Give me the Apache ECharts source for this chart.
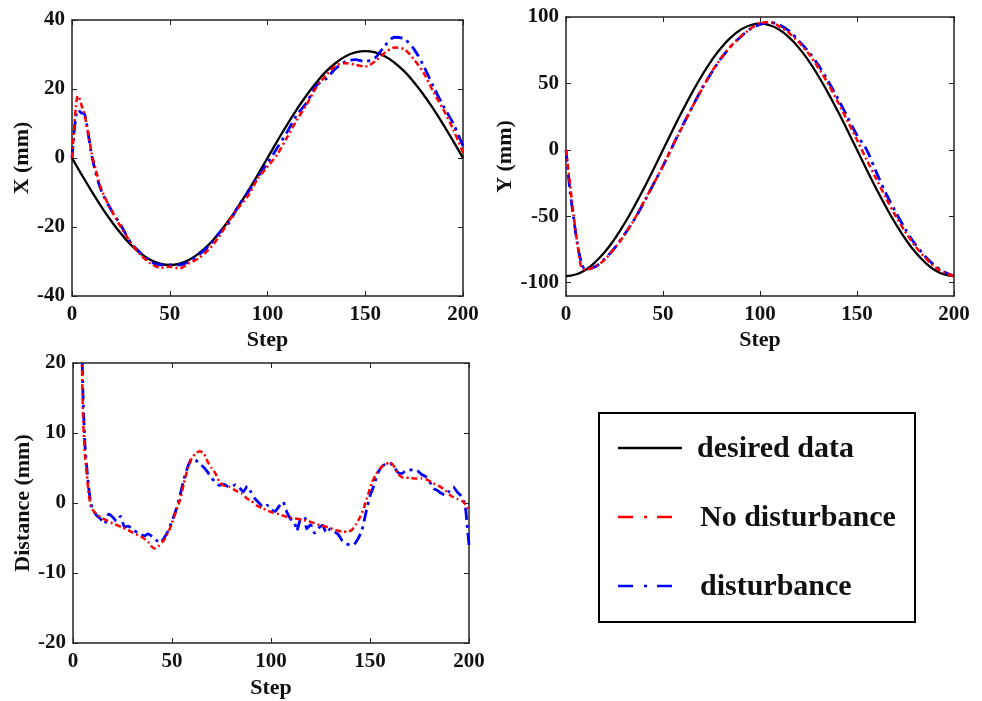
<!DOCTYPE html>
<html><head><meta charset="utf-8">
<script src="https://cdn.jsdelivr.net/npm/echarts@6/dist/echarts.min.js"></script>
<style>html,body{margin:0;padding:0;background:#fff}#c{width:982px;height:701px}</style>
</head><body><div id="c"></div>
<script>
// ---- data ----
const desiredSteps = [0,5,10,15,20,25,30,35,40,45,50,55,60,65,70,75,80,85,90,95,100,105,110,115,120,125,130,135,140,145,150,155,160,165,170,175,180,185,190,195,200];
const desiredX = [0,-4.9,-9.6,-14.1,-18.2,-21.9,-25.1,-27.6,-29.5,-30.6,-31,-30.6,-29.5,-27.6,-25.1,-21.9,-18.2,-14.1,-9.6,-4.9,0,4.9,9.6,14.1,18.2,21.9,25.1,27.6,29.5,30.6,31,30.6,29.5,27.6,25.1,21.9,18.2,14.1,9.6,4.9,0];
const desiredY = [-95,-93.8,-90.4,-84.6,-76.9,-67.2,-55.8,-43.1,-29.4,-14.9,0,14.9,29.4,43.1,55.8,67.2,76.9,84.6,90.4,93.8,95,93.8,90.4,84.6,76.9,67.2,55.8,43.1,29.4,14.9,0,-14.9,-29.4,-43.1,-55.8,-67.2,-76.9,-84.6,-90.4,-93.8,-95];

const xSteps = [0,1,2,3,4,5,6,7,8,9,10,12,15,20,25,30,35,40,45,50,55,60,65,70,75,80,85,90,95,100,105,110,115,120,125,130,135,140,145,150,155,160,165,170,175,180,185,190,195,200];
const xNoDist = [0,8,15,18,17,15,13.5,11,8,5,1.5,-3,-9,-15,-20,-24.5,-28,-30.5,-31.8,-31.5,-32,-30.5,-29,-26.5,-23,-18.5,-14.5,-11,-6,-2.5,1,6,11,15.5,20.5,24,26.8,27.5,27,26.5,28,30.5,32,31.5,28.5,24.5,19,14,8.3,1.5];
const xDist = [0,7,12,14,13.5,13,13,11.5,8,4.5,1,-4,-9.5,-15,-19.5,-24.5,-27.5,-30,-31,-31,-31,-30,-28,-25.5,-22,-19,-14,-10,-5.5,-1.5,3,7.5,12.5,16,21,23,26,28,28.5,28,29,32.5,35,34.5,31.5,26.5,20.5,15,10,3.5];

const ySteps = [0,2,4,6,8,10,15,20,25,30,35,40,45,50,55,60,65,70,75,80,85,90,95,100,105,110,115,120,125,130,135,140,145,150,155,160,165,170,175,180,185,190,195,200];
const yNoDist = [0,-25,-50,-72,-89,-90,-88,-82.6,-74.1,-64.2,-52.8,-39.5,-26,-12,3,17.5,32,45.5,58.5,69.1,78,85.2,91,95.5,96,93,88,81,72.5,62,50,36.5,22,7.5,-7.5,-22,-36.5,-50,-62,-72.5,-81,-88,-92.5,-95];
const yDist = [0,-30,-52,-72,-85,-90,-88,-82,-74,-64,-53,-40,-26,-12,3,18,32,46,58,69,78,85,91,94.5,96,94,89.5,82,74,64,52,39,25,11,0,-17,-33,-47,-60,-71,-80,-87,-92,-95];

const dNoSteps = [0,2,3,4,5,6,7,8,9,10,12,15,20,25,30,35,38,41,43,46,49,52,54,56,58,60,62,64,66,68,70,72,74,76,79,82,85,88,90,93,96,100,104,108,112,116,120,124,128,132,136,139,141,143,145,147,149,151,153,155,157,160,162,164,166,168,170,173,176,179,182,185,188,191,194,197,200];
const dNoVals = [95,65,45,28,13,7,4,1.2,-0.5,-1,-1.6,-2.2,-2.9,-3.5,-4.2,-4.9,-5.6,-6.5,-6.2,-5.3,-3.6,-1.2,0.4,2.8,5,6.4,7.1,7.4,7.1,5.9,5,4.2,3,2.5,2.3,1.8,1.4,0.6,0.3,-0.4,-0.8,-1.3,-1.6,-2,-2.2,-2.4,-2.7,-3.1,-3.4,-3.8,-4.1,-4.1,-3.8,-3,-2,-0.6,1.2,2.9,4.1,4.9,5.4,5.8,5.3,4.2,3.7,3.6,3.6,3.5,3.5,3.3,2.8,2.4,1.8,1,0.6,0.2,-1];
const dDisSteps = [0,2,3,4,5,6,7,8,9,10,12,14,16,18,20,22,24,26,28,30,33,36,38,40,42,44,46,48,50,52,54,56,58,60,62,64,66,68,70,72,74,76,78,80,82,84,86,88,90,92,94,96,98,100,102,104,106,108,110,112,113,115,117,118,120,122,124,126,128,130,132,134,136,138,140,142,144,146,148,150,152,154,156,158,160,162,164,166,168,170,172,174,176,178,180,182,184,186,188,190,192,194,196,198,199,200];
const dDisVals = [95,67,48,30,16,8.5,5,2,0,-1,-1.8,-2.3,-3,-1.6,-2,-2.6,-1.9,-3.4,-3.3,-3.8,-4.3,-4.7,-4.4,-4.8,-5.3,-5.7,-5,-4,-2.6,-1,1,3.4,5.2,6.3,6.1,5.6,5.1,4.4,3.6,2.9,2.5,2.7,2.4,2.3,2.6,2.2,1.6,2.4,1.5,0.6,0,-0.6,-0.3,-0.9,-1.2,-0.5,0.2,-1.3,-2.3,-2.9,-4,-2.2,-2,-3.7,-3.1,-4.3,-3.6,-3.2,-4.3,-3.7,-4.1,-4.5,-5.4,-5.8,-6,-5.9,-5.1,-3.8,-1.3,1,2.5,4.3,5.2,5.6,5.7,5.2,4.4,4.2,4.6,4.7,4.8,4.6,4.1,3.8,3.1,2.1,1.8,1.4,1.1,1.7,2.3,1.6,1,-0.3,-3,-6];

const legendNames = ['desired data','No disturbance','disturbance'];
const xTitle = 'Step';
const yTitles = ['X (mm)','Y (mm)','Distance (mm)'];
const yTicksY = [-100,-50,0,50,100];

// ---- chart ----
const FONT = 'Liberation Serif';
const zip = (s, v) => s.map((x, i) => [x, v[i]]);
const chart = echarts.init(document.getElementById('c'), null, {renderer: 'canvas'});

const axisLineStyle = {lineStyle: {color: '#222', width: 1.5}};
const labelStyle = {color: '#111', fontFamily: FONT, fontWeight: 'bold', fontSize: 21};
const nameStyle = {color: '#111', fontFamily: FONT, fontWeight: 'bold', fontSize: 22};

function mainX(grid, gap) {
  return {type: 'value', gridIndex: grid, min: 0, max: 200, interval: 50, position: 'bottom',
    axisLine: {show: true, onZero: false, ...axisLineStyle},
    axisTick: {show: true, inside: true, length: 5, lineStyle: {color: '#222'}},
    axisLabel: {...labelStyle, margin: 8}, splitLine: {show: false},
    name: xTitle, nameLocation: 'middle', nameGap: gap, nameTextStyle: nameStyle};
}
function topX(grid) {
  return {type: 'value', gridIndex: grid, min: 0, max: 200, interval: 50, position: 'top',
    axisLine: {show: true, onZero: false, ...axisLineStyle},
    axisTick: {show: true, inside: true, length: 5, lineStyle: {color: '#222'}},
    axisLabel: {show: false}, splitLine: {show: false}};
}
function mainY(grid, min, max, interval, name, gap, custom) {
  const a = {type: 'value', gridIndex: grid, min: min, max: max, position: 'left',
    axisLine: {show: true, onZero: false, ...axisLineStyle},
    axisTick: {show: true, inside: true, length: 5, lineStyle: {color: '#222'}},
    axisLabel: {...labelStyle, margin: 7}, splitLine: {show: false},
    name: name, nameLocation: 'middle', nameGap: gap, nameTextStyle: nameStyle};
  if (custom) { a.axisTick.customValues = custom; a.axisLabel.customValues = custom; }
  else a.interval = interval;
  return a;
}
function rightY(grid, min, max, interval, custom) {
  const a = {type: 'value', gridIndex: grid, min: min, max: max, position: 'right',
    axisLine: {show: true, onZero: false, ...axisLineStyle},
    axisTick: {show: true, inside: true, length: 5, lineStyle: {color: '#222'}},
    axisLabel: {show: false}, splitLine: {show: false}};
  if (custom) { a.axisTick.customValues = custom; a.axisLabel.customValues = custom; }
  else a.interval = interval;
  return a;
}

const blackLine = {color: '#000', width: 2.3, type: 'solid'};
const redLine = {color: '#ff0000', width: 2.5, type: [6, 3, 2, 3]};
const blueLine = {color: '#0000ff', width: 2.8, type: [12, 5, 3, 5]};

function ser(name, data, xi, yi, ls, smooth) {
  return {type: 'line', name: name, data: data, xAxisIndex: xi, yAxisIndex: yi,
    showSymbol: false, symbol: 'none', smooth: smooth, lineStyle: ls, clip: true,
    silent: true, animation: false};
}

const option = {
  backgroundColor: '#fff',
  animation: false,
  grid: [
    {left: 72, top: 20, width: 391, height: 276},
    {left: 566, top: 17, width: 388, height: 279},
    {left: 73, top: 363, width: 396, height: 280}
  ],
  xAxis: [mainX(0, 33), topX(0), mainX(1, 33), topX(1), mainX(2, 34), topX(2)],
  yAxis: [
    mainY(0, -40, 40, 20, yTitles[0], 38), rightY(0, -40, 40, 20),
    mainY(1, -110, 100, null, yTitles[1], 48, yTicksY), rightY(1, -110, 100, null, yTicksY),
    mainY(2, -20, 20, 10, yTitles[2], 39), rightY(2, -20, 20, 10)
  ],
  series: [
    ser(legendNames[0], zip(desiredSteps, desiredX), 0, 0, blackLine, true),
    ser(legendNames[2], zip(xSteps, xDist), 0, 0, blueLine, 0.3),
    ser(legendNames[1], zip(xSteps, xNoDist), 0, 0, redLine, 0.3),
    ser(legendNames[0], zip(desiredSteps, desiredY), 2, 2, blackLine, true),
    ser(legendNames[2], zip(ySteps, yDist), 2, 2, blueLine, 0.3),
    ser(legendNames[1], zip(ySteps, yNoDist), 2, 2, redLine, 0.3),
    ser(legendNames[2], zip(dDisSteps, dDisVals), 4, 4, blueLine, 0.2),
    ser(legendNames[1], zip(dNoSteps, dNoVals), 4, 4, redLine, 0.2)
  ],
  graphic: [
    {type: 'rect', shape: {x: 599, y: 413, width: 316, height: 209},
      style: {fill: 'none', stroke: '#000', lineWidth: 2}},
    {type: 'line', shape: {x1: 618, y1: 448, x2: 682, y2: 448}, style: {stroke: '#000', lineWidth: 2.5}},
    {type: 'line', shape: {x1: 618, y1: 517, x2: 673, y2: 517}, style: {stroke: '#ff0000', lineWidth: 2.5, lineDash: [15, 11, 3, 10]}},
    {type: 'line', shape: {x1: 618, y1: 586, x2: 673, y2: 586}, style: {stroke: '#0000ff', lineWidth: 2.5, lineDash: [15, 11, 3, 10]}},
    {type: 'text', x: 697, y: 449, style: {text: legendNames[0], fill: '#111', font: 'bold 30px "Liberation Serif"', verticalAlign: 'middle'}},
    {type: 'text', x: 700, y: 518, style: {text: legendNames[1], fill: '#111', font: 'bold 30px "Liberation Serif"', verticalAlign: 'middle'}},
    {type: 'text', x: 700, y: 587, style: {text: legendNames[2], fill: '#111', font: 'bold 30px "Liberation Serif"', verticalAlign: 'middle'}}
  ]
};
chart.setOption(option);
</script>
</body></html>
